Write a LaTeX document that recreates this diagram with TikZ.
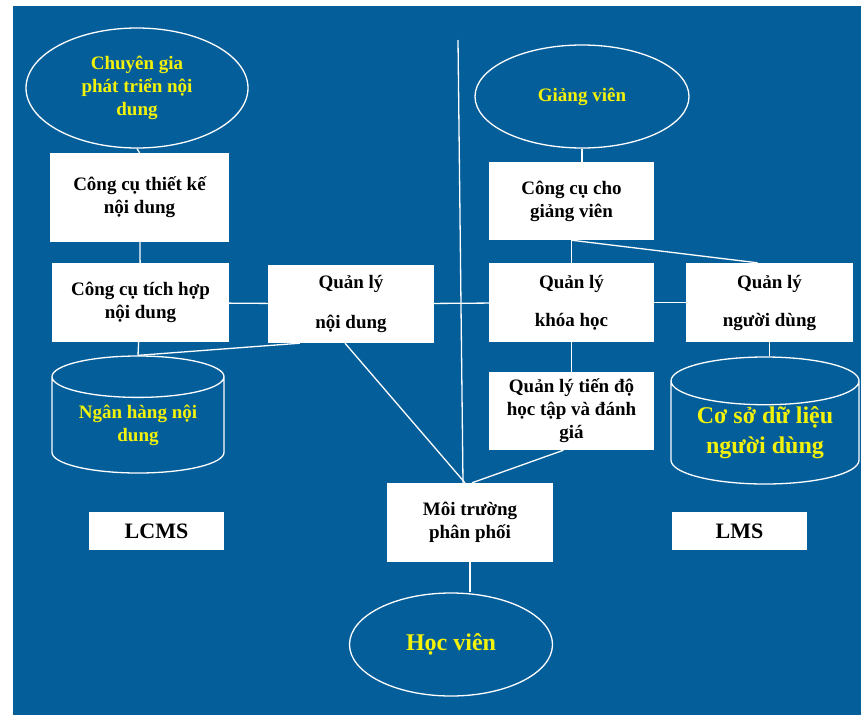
\documentclass[tikz,border=0pt]{standalone}
\usepackage{fontspec}
\setmainfont{Liberation Serif}
\usetikzlibrary{shapes.geometric}
\definecolor{bgblue}{HTML}{045E9A}
\definecolor{hiyellow}{HTML}{F2F20A}

\begin{document}
\begin{tikzpicture}[x=1pt,y=-1pt]
		\tikzstyle{every edge}=[draw,color=white,line width=1.3pt]
		\tikzstyle{box}=[draw=none,fill=white,inner sep=0pt,align=center,font=\bfseries\fontsize{19}{23}\selectfont]
		\tikzstyle{actor}=[ellipse,draw=white,line width=1.3pt,inner sep=0pt,align=center,text=hiyellow,font=\bfseries\fontsize{19}{23}\selectfont]
		\tikzstyle{store}=[cylinder,shape border rotate=90,anchor=shape center,aspect=0.35,draw=white,line width=1.3pt,inner sep=0pt,align=center,text=hiyellow,font=\bfseries\fontsize{19}{23}\selectfont]

		\useasboundingbox (0,0) rectangle (861,715);
		\fill[white] (0,0) rectangle (861,715);
		\fill[bgblue] (13,6) rectangle (861,715);

		% LCMS side
		\node (expert) at (137,88) [actor, minimum width=222, minimum height=120] {Chuyên gia\\phát triển nội\\dung};
		\node (designtool) at (139.5,197.5) [box, minimum width=179, minimum height=89] {Công cụ thiết kế\\nội dung};
		\node (integtool) at (140.5,302.5) [box, minimum width=177, minimum height=79] {Công cụ tích hợp\\nội dung};
		\node (contentmgmt) at (351,304) [box, minimum width=166, minimum height=78] {Quản lý\\[17pt]nội dung};
		\node (bank) at (138,414.5) [store, minimum width=172, minimum height=117] {Ngân hàng nội\\dung};
		\node (lcms) at (156.5,531) [box, minimum width=135, minimum height=38, font=\bfseries\fontsize{22}{26}\selectfont] {LCMS};

		% LMS side
		\node (teacher) at (582,96.5) [actor, minimum width=214, minimum height=103] {Giảng viên};
		\node (teachtool) at (571.5,201) [box, minimum width=165, minimum height=78] {Công cụ cho\\giảng viên};
		\node (coursemgmt) at (571.5,302.5) [box, minimum width=165, minimum height=79] {Quản lý\\[15pt]khóa học};
		\node (usermgmt) at (769.5,302.5) [box, minimum width=167, minimum height=79] {Quản lý\\[15pt]người dùng};
		\node (progress) at (571.5,411) [box, minimum width=165, minimum height=78] {Quản lý tiến độ\\học tập và đánh\\giá};
		\node (userdb) at (765,420.5) [store, minimum width=188, minimum height=127, font=\bfseries\fontsize{24}{30}\selectfont] {Cơ sở dữ liệu\\người dùng};
		\node (lms) at (739.5,531) [box, minimum width=135, minimum height=38, font=\bfseries\fontsize{22}{26}\selectfont] {LMS};

		% learner
		\node (delivery) at (470,522.5) [box, minimum width=166, minimum height=79] {Môi trường\\phân phối};
		\node (learner) at (451,644.5) [actor, minimum width=203, minimum height=103, font=\bfseries\fontsize{24}{28}\selectfont] {Học viên};

		\coordinate (divtop) at (458,40);

		\path (expert.south) edge (designtool.north);
		\path (designtool) edge (integtool);
		\path (integtool) edge (contentmgmt);
		\path (integtool) edge (bank.north);
		\path (bank.north) edge ([xshift=32pt]contentmgmt.south west);
		\path ([xshift=-6pt]contentmgmt.south) edge ([xshift=-5pt]delivery.north);
		\path (divtop) edge ([xshift=-7pt]delivery.north);

		\path (teacher.south) edge (teacher.south |- teachtool.north);
		\path (teachtool) edge (coursemgmt);
		\path (teachtool.south) edge ([xshift=-12pt]usermgmt.north);
		\path (contentmgmt) edge (coursemgmt);
		\path (coursemgmt) edge (usermgmt);
		\path (coursemgmt) edge (progress);
		\path ([xshift=-8pt]progress.south) edge ([xshift=2pt]delivery.north);
		\path (usermgmt.south) edge (usermgmt.south |- userdb.north);

		\path (delivery.south) edge (delivery.south |- learner.north);
	\end{tikzpicture}
\end{document}
